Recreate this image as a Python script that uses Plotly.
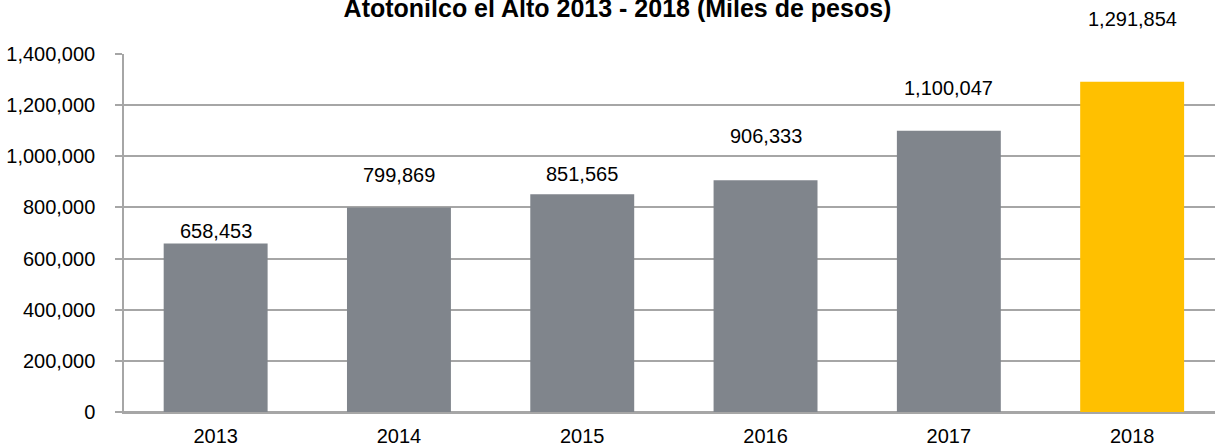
import plotly.graph_objects as go

years = ["2013", "2014", "2015", "2016", "2017", "2018"]
values = [658453, 799869, 851565, 906333, 1100047, 1291854]
bar_colors = ["#80858C", "#80858C", "#80858C", "#80858C", "#80858C", "#FFC000"]
label_texts = ["658,453", "799,869", "851,565", "906,333", "1,100,047", "1,291,854"]
label_shift_px = [13, 32, 20, 44, 43, 63]

title_text = "<b>Atotonilco el Alto 2013 - 2018 (Miles de pesos)</b>"
y_tickvals = [0, 200000, 400000, 600000, 800000, 1000000, 1200000, 1400000]
y_ticktext = ["0", "200,000", "400,000", "600,000", "800,000", "1,000,000", "1,200,000", "1,400,000"]

FONT = "Liberation Sans, Arial, sans-serif"
GRID = "#A6A6A6"

fig = go.Figure()
fig.add_trace(go.Bar(
    x=years, y=values, marker=dict(color=bar_colors, line=dict(width=0)),
    width=0.567, hoverinfo="x+y",
))

annotations = []
for i, (v, t, s) in enumerate(zip(values, label_texts, label_shift_px)):
    annotations.append(dict(x=i, y=v, text=t, showarrow=False, xref="x", yref="y",
                            xanchor="center", yanchor="middle", yshift=s,
                            font=dict(family=FONT, size=20, color="#000000")))

fig.update_layout(
    width=1215, height=447,
    margin=dict(l=124, r=0, t=54, b=35, autoexpand=False),
    paper_bgcolor="white", plot_bgcolor="white",
    showlegend=False,
    title=dict(text=title_text, x=617.5 / 1215, xanchor="center", xref="container",
               y=1 - 8 / 447, yanchor="middle", yref="container", automargin=False,
               font=dict(family=FONT, size=25, color="#000000")),
    font=dict(family=FONT, size=20, color="#000000"),
    annotations=annotations,
)

fig.update_xaxes(
    type="category", range=[-0.5, 5.452], showgrid=False,
    showline=True, linecolor=GRID, linewidth=1.5,
    ticks="", tickfont=dict(family=FONT, size=20, color="#000000"),
    ticklabelstandoff=5,
)
fig.update_yaxes(
    range=[0, 1400000], tickvals=y_tickvals, ticktext=y_ticktext,
    showgrid=True, gridcolor=GRID, gridwidth=1.5,
    zeroline=True, zerolinecolor=GRID, zerolinewidth=1.5,
    showline=True, linecolor=GRID, linewidth=1.5,
    ticks="outside", ticklen=7, tickcolor=GRID, tickwidth=1.5,
    tickfont=dict(family=FONT, size=20, color="#000000"),
    ticklabelstandoff=16,
)

fig.write_html(
    "out.html",
    config={"displayModeBar": False},
    post_script="document.body.style.margin='0';document.body.style.overflow='hidden';",
)
